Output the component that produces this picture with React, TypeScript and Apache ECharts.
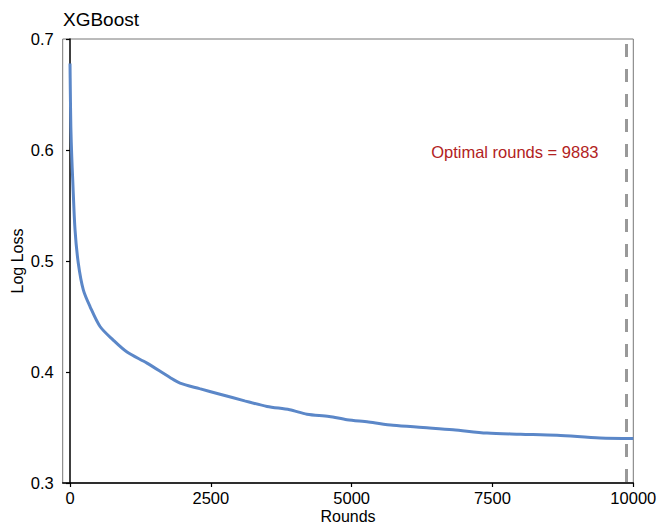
import React, { useEffect, useRef } from "react";
import * as echarts from "echarts";

const rounds = [0, 5, 15, 30, 48, 89, 147, 236, 355, 533, 763, 1012, 1367, 1775, 1953, 2300, 2663, 3100, 3497, 3900, 4207, 4600, 4917, 5300, 5734, 6267, 6800, 7403, 8000, 8646, 9409, 10000];
const logLoss = [0.678, 0.655, 0.62, 0.595, 0.573, 0.528, 0.498, 0.474, 0.459, 0.441, 0.429, 0.418, 0.408, 0.395, 0.39, 0.385, 0.38, 0.374, 0.369, 0.366, 0.362, 0.36, 0.357, 0.355, 0.352, 0.35, 0.348, 0.345, 0.344, 0.343, 0.3405, 0.34];
const xTicks = [0, 2500, 5000, 7500, 10000];
const optimalRound = 9883;
const annotation = "Optimal rounds = 9883";
const FONT = "'Liberation Sans', Arial, sans-serif";

export default function App() {
  const ref = useRef<HTMLDivElement>(null);
  useEffect(() => {
    const chart = echarts.init(ref.current!, null, { renderer: "svg" });
    chart.setOption({
      animation: false,
      title: {
        text: "XGBoost",
        left: 58,
        top: 5,
        textStyle: { fontFamily: FONT, fontSize: 19, fontWeight: "normal", color: "#000" },
      },
      grid: {
        left: 62.7,
        right: 23.7,
        top: 39,
        bottom: 44,
        containLabel: false,
        outerBoundsMode: "none",
        show: true,
        borderColor: "#777777",
        borderWidth: 1,
      },
      xAxis: {
        type: "value",
        min: -130,
        max: 10000,
        name: "Rounds",
        nameLocation: "middle",
        nameGap: 25,
        nameMoveOverlap: false,
        nameTextStyle: { fontFamily: FONT, fontSize: 16, color: "#000" },
        axisLine: { show: true, onZero: false, lineStyle: { color: "#000", width: 1.5 } },
        axisTick: { show: true, length: 4, customValues: xTicks, lineStyle: { color: "#000", width: 1.2 } },
        axisLabel: {
          customValues: xTicks,
          fontFamily: FONT,
          fontSize: 16.5,
          color: "#000",
          margin: 6,
          formatter: (v: number) => String(v),
        },
        splitLine: { show: false },
      },
      yAxis: {
        type: "value",
        min: 0.3,
        max: 0.7,
        interval: 0.1,
        name: "Log Loss",
        nameLocation: "middle",
        nameGap: 37,
        nameMoveOverlap: false,
        nameTextStyle: { fontFamily: FONT, fontSize: 16, color: "#000" },
        axisLine: { show: true, lineStyle: { color: "#000", width: 1.5 } },
        axisTick: { show: true, length: 4, lineStyle: { color: "#000", width: 1.2 } },
        axisLabel: { fontFamily: FONT, fontSize: 16.5, color: "#000", margin: 9, formatter: (v: number) => v.toFixed(1) },
        splitLine: { show: false },
      },
      series: [
        {
          type: "line",
          data: rounds.map((r, i) => [r, logLoss[i]]),
          showSymbol: false,
          smooth: 0.3,
          lineStyle: { color: "#5b87c8", width: 3 },
          markLine: {
            silent: true,
            symbol: "none",
            label: { show: false },
            lineStyle: { color: "#999999", width: 3, type: [13, 12], dashOffset: 24 },
            data: [{ xAxis: optimalRound }],
          },
          markPoint: {
            symbol: "circle",
            symbolSize: 0,
            data: [{ coord: [9383, 0.598] }],
            label: {
              show: true,
              formatter: annotation,
              position: "left",
              distance: 0,
              fontFamily: FONT,
              fontSize: 16.5,
              color: "#b22222",
            },
          },
        },
      ],
    });
    return () => chart.dispose();
  }, []);
  return <div ref={ref} style={{ position: "absolute", left: 0, top: 0, width: 657, height: 527 }} />;
}
